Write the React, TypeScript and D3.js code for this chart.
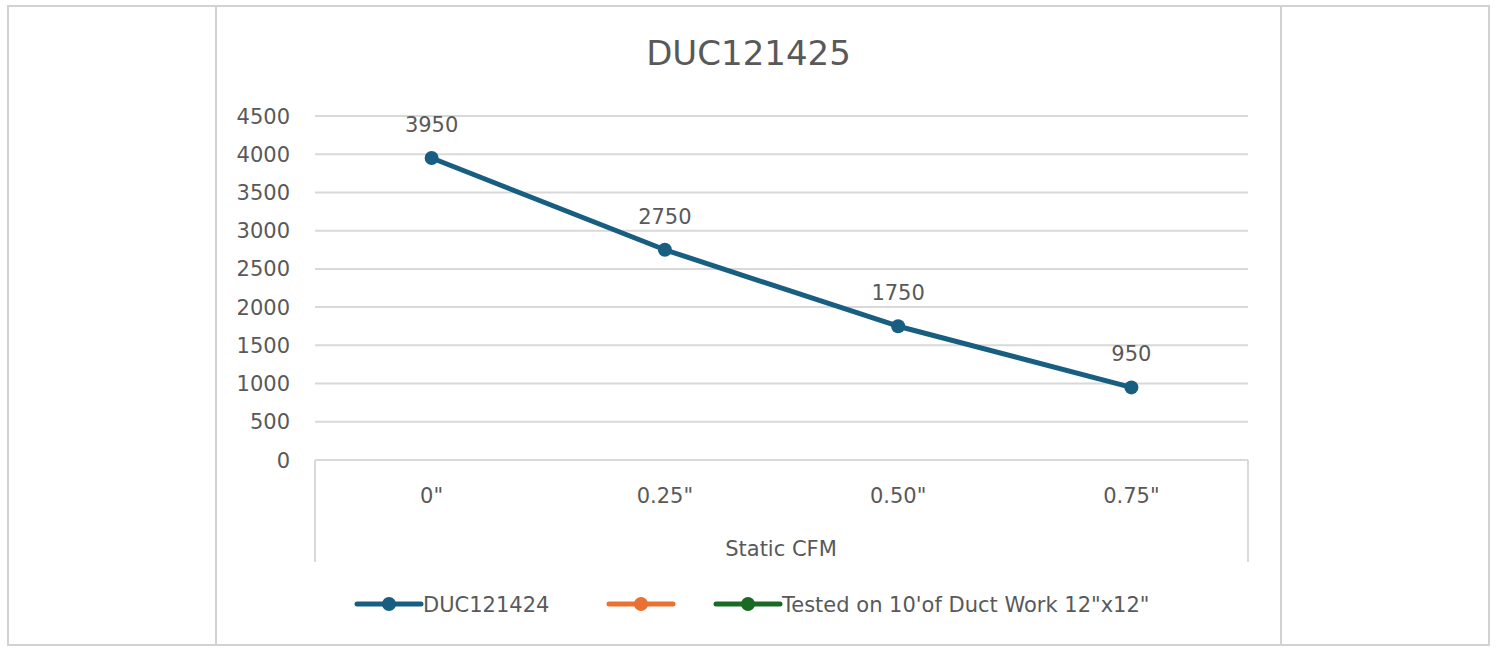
import React from "react";
import * as d3 from "d3";

const categories = ['0"', '0.25"', '0.50"', '0.75"'];
const seriesValues = [3950, 2750, 1750, 950];
const yTicks = [0, 500, 1000, 1500, 2000, 2500, 3000, 3500, 4000, 4500];
const legendItems = [
  { name: "DUC121424", color: "#175E80" },
  { name: "", color: "#E97132" },
  { name: "Tested on 10'of Duct Work 12\"x12\"", color: "#196B24" },
];
const title = "DUC121425";
const xTitle = "Static CFM";

const W = 1498;
const H = 648;
const FONT = "'DejaVu Sans', sans-serif";
const TXT = "#595959";
const GRID = "#d9d9d9";

export default function App() {
  const x = d3.scaleBand<string>().domain(categories).range([315, 1248]).padding(0);
  const y = d3.scaleLinear().domain([0, 4500]).range([460, 116]);
  const cx = (c: string) => (x(c) as number) + x.bandwidth() / 2;
  const line = d3
    .line<number>()
    .x((_, i) => cx(categories[i]))
    .y((d) => y(d));

  const legendX = [357, 609, 716];

  return (
    <svg
      width={W}
      height={H}
      style={{ position: "absolute", left: 0, top: 0, background: "#fff" }}
      fontFamily={FONT}
    >
      {/* frames */}
      <rect x={8} y={6} width={1481} height={639} fill="#fff" stroke="#d2d2d2" strokeWidth={2} />
      <line x1={216} x2={216} y1={6} y2={645} stroke="#d2d2d2" strokeWidth={2} />
      <line x1={1281} x2={1281} y1={6} y2={645} stroke="#d2d2d2" strokeWidth={2} />

      {/* title */}
      <text x={748.5} y={65} textAnchor="middle" fontSize={34} fill={TXT}>
        {title}
      </text>

      {/* gridlines */}
      {yTicks.filter((t) => t > 0).map((t) => (
        <line key={t} x1={315} x2={1248} y1={y(t)} y2={y(t)} stroke={GRID} strokeWidth={2} />
      ))}
      {/* y labels */}
      {yTicks.map((t) => (
        <text key={t} x={290} y={y(t)} dy="0.36em" textAnchor="end" fontSize={21} fill={TXT}>
          {t}
        </text>
      ))}

      {/* category axis box */}
      <line x1={315} x2={1248} y1={y(0)} y2={y(0)} stroke={GRID} strokeWidth={2} />
      <line x1={315} x2={315} y1={y(0)} y2={562} stroke={GRID} strokeWidth={2} />
      <line x1={1248} x2={1248} y1={y(0)} y2={562} stroke={GRID} strokeWidth={2} />
      {categories.map((c) => (
        <text key={c} x={cx(c)} y={503} textAnchor="middle" fontSize={21} fill={TXT}>
          {c}
        </text>
      ))}
      <text x={781} y={556} textAnchor="middle" fontSize={21} fill={TXT}>
        {xTitle}
      </text>

      {/* series */}
      <path d={line(seriesValues) || ""} fill="none" stroke={legendItems[0].color} strokeWidth={5} strokeLinejoin="round" />
      {seriesValues.map((v, i) => (
        <g key={i}>
          <circle cx={cx(categories[i])} cy={y(v)} r={7} fill={legendItems[0].color} />
          <text x={cx(categories[i])} y={y(v) - 26} textAnchor="middle" fontSize={21} fill={TXT}>
            {v}
          </text>
        </g>
      ))}

      {/* legend */}
      {legendItems.map((it, i) => (
        <g key={i}>
          <line x1={legendX[i]} x2={legendX[i] + 64} y1={604} y2={604} stroke={it.color} strokeWidth={5} strokeLinecap="round" />
          <circle cx={legendX[i] + 32} cy={604} r={7} fill={it.color} />
          {it.name && (
            <text x={legendX[i] + 66} y={604} dy="0.36em" fontSize={21} fill={TXT}>
              {it.name}
            </text>
          )}
        </g>
      ))}
    </svg>
  );
}
